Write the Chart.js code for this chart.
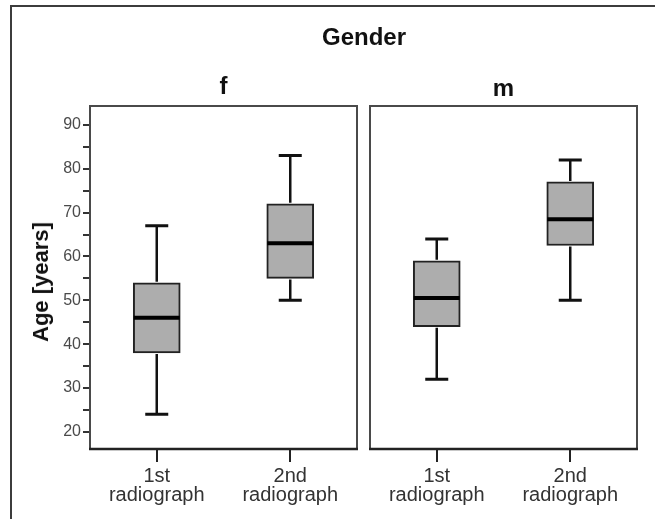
<!DOCTYPE html>
<html><head><meta charset="utf-8">
<script src="https://cdn.jsdelivr.net/npm/chart.js@4.4.1/dist/chart.umd.min.js"></script>
<style>
html,body{margin:0;padding:0;background:#fff}
body{width:655px;height:519px;overflow:hidden;position:relative;font-family:"Liberation Sans",Arial,sans-serif}
#frame{position:absolute;left:10px;top:5px;width:700px;height:600px;border-left:2px solid #3c3c3c;border-top:2px solid #3c3c3c;box-sizing:border-box}
.t{position:absolute;font-weight:bold;font-size:24px;line-height:1;color:#111;transform:translate(-50%,-50%);white-space:nowrap}
#ytitle{position:absolute;left:41px;top:282px;font-weight:bold;font-size:22px;line-height:1;color:#111;transform:translate(-50%,-50%) rotate(-90deg);white-space:nowrap}
.w{position:absolute;top:0}
</style></head>
<body>
<div id="frame"></div>
<div class="w" style="left:0;width:365px;height:519px"><canvas id="c1" width="365" height="519"></canvas></div>
<div class="w" style="left:365px;width:290px;height:519px"><canvas id="c2" width="290" height="519"></canvas></div>
<div class="t" style="left:364px;top:37px">Gender</div>
<div class="t" style="left:223.5px;top:86px">f</div>
<div class="t" style="left:503.5px;top:88px">m</div>
<div id="ytitle">Age [years]</div>
<script>
// ---- data ----
const categories = [["1st","radiograph"],["2nd","radiograph"]];
const panelNames = ["f","m"];
const yTickValues = [20,25,30,35,40,45,50,55,60,65,70,75,80,85,90];
const yLabelValues = [20,30,40,50,60,70,80,90];
// f panel (min, Q1, median, Q3, max)
const fMin = [24, 50];
const fQ1  = [38, 55];
const fMed = [46, 63];
const fQ3  = [54, 72];
const fMax = [67, 83];
// m panel
const mMin = [32, 50];
const mQ1  = [44, 62.5];
const mMed = [50.5, 68.5];
const mQ3  = [59, 77];
const mMax = [64, 82];

const Y_MIN = 16.1, Y_MAX = 94.3;
const FONT = "'Liberation Sans', Arial, sans-serif";

const boxPlugin = {
  id: 'boxStats',
  beforeDatasetsDraw(chart) {
    const a = chart.chartArea, ctx = chart.ctx;
    ctx.save();
    ctx.fillStyle = '#fff';
    ctx.fillRect(a.left, a.top, a.right - a.left, a.bottom - a.top);
    ctx.restore();
  },
  afterDatasetsDraw(chart) {
    const st = chart.options.plugins.boxStats;
    const xs = chart.scales.x, ys = chart.scales.y, ctx = chart.ctx;
    ctx.save();
    ctx.strokeStyle = '#111';
    ctx.lineCap = 'butt';
    for (let i = 0; i < st.min.length; i++) {
      const x = xs.getPixelForValue(i);
      const pMin = ys.getPixelForValue(st.min[i]);
      const pQ1 = ys.getPixelForValue(st.q1[i]);
      const pMed = ys.getPixelForValue(st.med[i]);
      const pQ3 = ys.getPixelForValue(st.q3[i]);
      const pMax = ys.getPixelForValue(st.max[i]);
      ctx.lineWidth = 2.5;
      ctx.beginPath();
      ctx.moveTo(x, pQ3 - 1); ctx.lineTo(x, pMax);
      ctx.moveTo(x, pQ1 + 1); ctx.lineTo(x, pMin);
      ctx.stroke();
      ctx.lineWidth = 3;
      ctx.beginPath();
      ctx.moveTo(x - 11.5, pMax); ctx.lineTo(x + 11.5, pMax);
      ctx.moveTo(x - 11.5, pMin); ctx.lineTo(x + 11.5, pMin);
      ctx.stroke();
      ctx.lineWidth = 4;
      ctx.strokeStyle = '#000';
      ctx.beginPath();
      ctx.moveTo(x - 23, pMed); ctx.lineTo(x + 23, pMed);
      ctx.stroke();
      ctx.strokeStyle = '#111';
    }
    // panel frame
    const a = chart.chartArea;
    ctx.lineWidth = 2;
    ctx.strokeStyle = '#4a4a4a';
    ctx.strokeRect(a.left, a.top, a.right - a.left, a.bottom - a.top);
    ctx.lineWidth = 2.5;
    ctx.strokeStyle = '#222';
    ctx.beginPath();
    ctx.moveTo(a.left - 1, a.bottom); ctx.lineTo(a.right + 1, a.bottom);
    ctx.stroke();
    ctx.restore();
  }
};

function makeChart(id, stats, showY, padding) {
  return new Chart(document.getElementById(id), {
    type: 'bar',
    data: {
      labels: categories,
      datasets: [{
        data: stats.q1.map((q, i) => [q, stats.q3[i]]),
        backgroundColor: '#adadad',
        borderColor: '#222',
        borderWidth: 2,
        borderSkipped: false,
        barThickness: 47
      }]
    },
    options: {
      responsive: false,
      animation: false,
      layout: { padding: padding },
      plugins: {
        legend: { display: false },
        tooltip: { enabled: false },
        title: { display: false },
        boxStats: stats
      },
      scales: {
        x: {
          offset: true,
          border: { display: false },
          grid: { offset: false, drawOnChartArea: false, drawTicks: true, tickLength: 13, color: '#222', lineWidth: 2 },
          ticks: { color: '#333', font: { family: FONT, size: 20, lineHeight: 0.95 }, padding: 5, maxRotation: 0, autoSkip: false },
          afterFit(scale) { scale.height = 70; }
        },
        y: {
          display: showY,
          min: Y_MIN, max: Y_MAX,
          border: { display: false },
          grid: { drawOnChartArea: false, drawTicks: true, tickLength: 7, color: '#333', lineWidth: 2 },
          ticks: {
            color: '#4a4a4a', font: { family: FONT, size: 16 }, padding: 2,
            callback: v => (yLabelValues.includes(v) ? String(v) : '')
          },
          afterBuildTicks(scale) { scale.ticks = yTickValues.map(v => ({ value: v })); },
          afterFit(scale) { scale.width = showY ? 90 : 0; }
        }
      }
    },
    plugins: [boxPlugin]
  });
}

makeChart('c1', { min: fMin, q1: fQ1, med: fMed, q3: fQ3, max: fMax }, true, { top: 106, right: 8, left: 0, bottom: 0 });
makeChart('c2', { min: mMin, q1: mQ1, med: mMed, q3: mQ3, max: mMax }, false, { top: 106, right: 18, left: 5, bottom: 0 });
</script>
</body></html>
